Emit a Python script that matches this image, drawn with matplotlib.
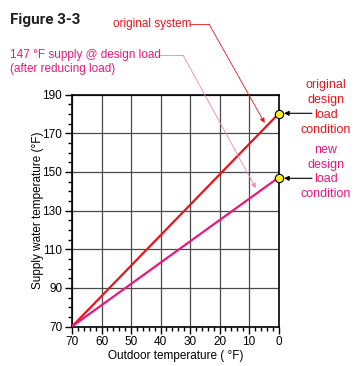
import numpy as np
import matplotlib.pyplot as plt
from matplotlib.lines import Line2D
from matplotlib.ticker import MultipleLocator

plt.rcParams['font.family'] = ['Liberation Sans', 'DejaVu Sans']

outdoor = [70, 0]
original_supply = [70, 180]
new_supply = [70, 147]
design_points = [180, 147]
xticks = [70, 60, 50, 40, 30, 20, 10, 0]
yticks = [70, 90, 110, 130, 150, 170, 190]

red = '#e8141b'
pink = '#e8187f'

W, H = 361, 366
fig = plt.figure(figsize=(W/100, H/100), dpi=100)
ax = fig.add_axes([72/W, 1-326.5/H, 206.5/W, 232/H])

def fp(x, y):
    # figure pixel position -> figure fraction
    return (x/W, 1-y/H)

ax.set_xlim(70, 0)
ax.set_ylim(70, 190)
ax.set_xticks(xticks)
ax.set_yticks(yticks)
ax.xaxis.set_minor_locator(MultipleLocator(2))
ax.yaxis.set_minor_locator(MultipleLocator(5))
ax.tick_params(direction='out', length=5, width=1, labelsize=8.5, pad=2)
ax.tick_params(which='minor', direction='out', length=3, width=1)
ax.grid(True, color='#4a4a4a', linewidth=0.9)
for s in ax.spines.values():
    s.set_linewidth(1.2)

ax.plot(outdoor, original_supply, color=red, lw=1.6, zorder=3)
ax.plot(outdoor, new_supply, color=pink, lw=1.6, zorder=3)
ax.plot([0, 0], design_points, 'o', ms=6, mfc='#ffee22', mec='black', mew=0.8,
        clip_on=False, zorder=5)

ax.set_xlabel('Outdoor temperature ( °F)', fontsize=8.5, labelpad=1)
ax.set_ylabel('Supply water temperature (°F)', fontsize=8.5, labelpad=-1)

fig.text(*fp(10, 20), 'Figure 3-3', fontsize=11, fontweight='bold', va='center',
         family=['Roboto', 'DejaVu Sans'], color='#222222')

# callout: original system
fig.text(*fp(113, 24), 'original system', color=red, fontsize=8.5, va='center')
fig.add_artist(Line2D([190/W, 209/W], [1-24/H, 1-24/H], color=red, lw=0.6))
ax.annotate('', xy=(4.7, 175.3), xycoords='data', xytext=fp(209, 24),
            textcoords='figure fraction',
            arrowprops=dict(arrowstyle='-|>', color=red, lw=0.6, mutation_scale=7,
                            shrinkA=0, shrinkB=0))

# callout: 147 F supply
fig.text(*fp(10, 55), '147 °F supply @ design load', color=pink, fontsize=8.5, va='center')
fig.text(*fp(10, 69), '(after reducing load)', color=pink, fontsize=8.5, va='center')
fig.add_artist(Line2D([158/W, 183/W], [1-55/H, 1-55/H], color='#f283b4', lw=0.6))
ax.annotate('', xy=(7.7, 141.6), xycoords='data', xytext=fp(183, 55),
            textcoords='figure fraction',
            arrowprops=dict(arrowstyle='-|>', color='#f283b4', lw=0.6, mutation_scale=7,
                            shrinkA=0, shrinkB=0))

# right side labels
fig.text(*fp(326, 107.5), 'original\ndesign\nload\ncondition', color=red, fontsize=9,
         ha='center', va='center', linespacing=1.3)
fig.text(*fp(326, 172), 'new\ndesign\nload\ncondition', color=pink, fontsize=9,
         ha='center', va='center', linespacing=1.3)
for ypx in [113.3, 178.3]:
    ax.annotate('', xy=fp(284, ypx), xycoords='figure fraction',
                xytext=fp(312, ypx), textcoords='figure fraction',
                arrowprops=dict(arrowstyle='-|>', color='black', lw=0.8,
                                mutation_scale=7, shrinkA=0, shrinkB=0))

plt.savefig('out.png', dpi=100)
